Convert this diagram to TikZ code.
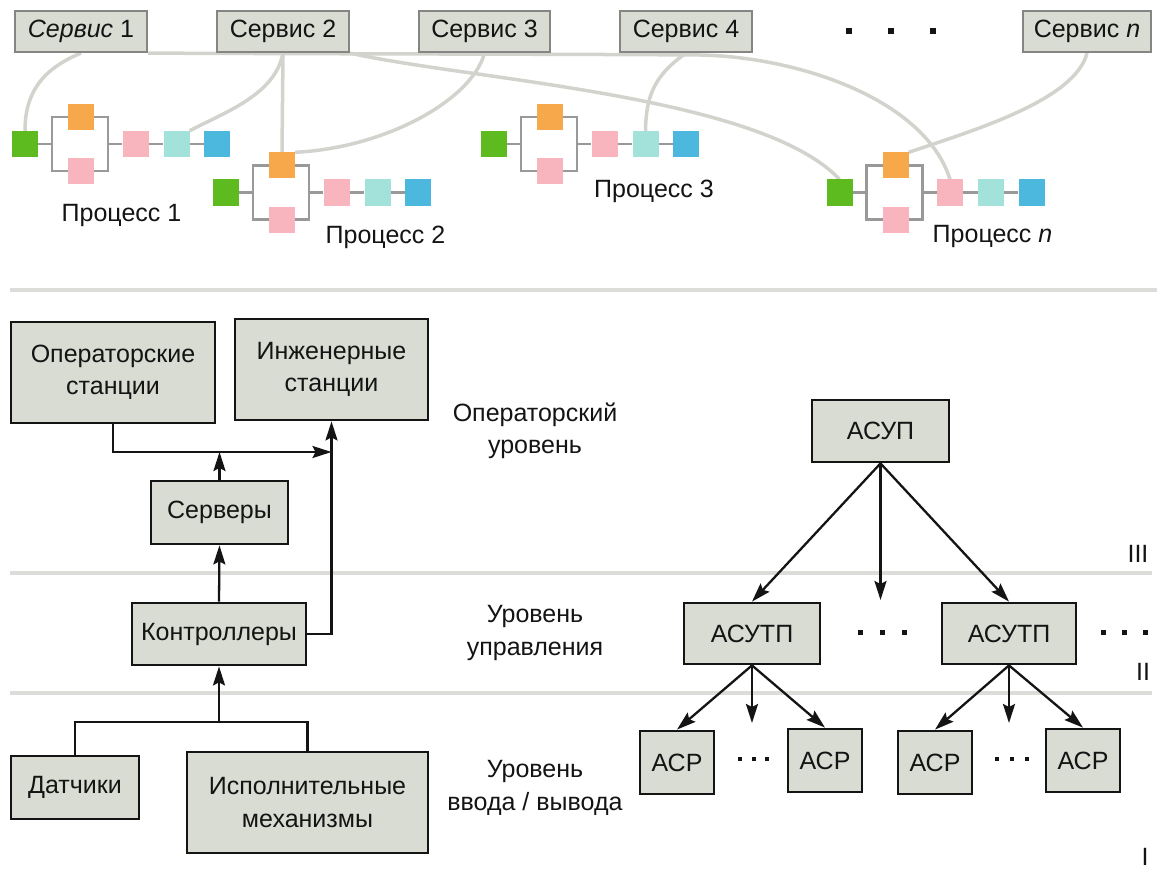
\documentclass[tikz,border=0pt]{standalone}
\usepackage{fontspec}
\setmainfont{Liberation Sans}
\usetikzlibrary{arrows.meta,backgrounds}

\definecolor{boxfill}{HTML}{D9DCD2}
\definecolor{svcedge}{HTML}{858583}
\definecolor{linkc}{HTML}{D3D3CE}
\definecolor{chainc}{HTML}{999999}
\definecolor{sepc}{HTML}{DCDCD8}
\definecolor{cgreen}{HTML}{5DBB1F}
\definecolor{corange}{HTML}{F7A84A}
\definecolor{cpink}{HTML}{F8B5BE}
\definecolor{ccyan}{HTML}{A2E2DA}
\definecolor{cblue}{HTML}{4CB8DD}
\definecolor{ink}{HTML}{141414}

\tikzset{
  every node/.style={font=\fontsize{25}{32.5}\selectfont, text=ink, inner sep=0pt},
  svc/.style={draw=svcedge, fill=boxfill, line width=2.2pt, minimum height=41pt},
  blk/.style={draw=ink, fill=boxfill, line width=2.8pt, align=center},
  sq/.style={minimum size=26pt, fill=#1},
  lvl/.style={align=center},
  link/.style={draw=linkc, line width=3.5pt},
  chainline/.style={draw=chainc, line width=2.6pt},
  arr/.style={draw=ink, line width=2.3pt, -{Stealth[length=19pt,width=12pt,inset=3pt]}},
  plain/.style={draw=ink, line width=2.3pt},
  sepline/.style={draw=sepc, line width=4pt},
  dotmark/.style={fill=ink, minimum size=#1}
}

% one process: start block, parallel pair in a bracket, then a chain of three
\newcommand\procrow[3]{%
  \node[sq=cgreen]  (#1g) at (#2,#3) {};
  \node[sq=corange] (#1o) at (#2+56,#3-27) {};
  \node[sq=cpink]   (#1b) at (#2+56,#3+27) {};
  \node[sq=cpink]   (#1k) at (#2+110.5,#3) {};
  \node[sq=ccyan]   (#1c) at (#2+151.5,#3) {};
  \node[sq=cblue]   (#1u) at (#2+192,#3) {};
  \coordinate (#1L) at (#2+27,#3);
  \coordinate (#1R) at (#2+83,#3);
  \begin{scope}[on background layer]
    \draw[chainline] (#1g) -- (#1L) (#1R) -- (#1k) -- (#1c) -- (#1u);
    \draw[chainline] (#1L |- #1o) rectangle (#1R |- #1b);
  \end{scope}
}

\begin{document}
\begin{tikzpicture}[x=1pt,y=-1pt]
\begin{scope}[on background layer]
  \fill[white] (0,0) rectangle (1157,872);
\end{scope}
\useasboundingbox (0,0) rectangle (1157,872);

% ---------- services ----------
\node[svc, minimum width=132pt] (s1) at (81,31.5)   {\textit{Сервис} 1};
\node[svc, minimum width=132pt] (s2) at (283,31.5)  {Сервис 2};
\node[svc, minimum width=131pt] (s3) at (484.5,31.5){Сервис 3};
\node[svc, minimum width=132pt] (s4) at (686,31.5)  {Сервис 4};
\node[svc, minimum width=128pt] (sn) at (1087,31.5) {Сервис \textit{n}};
\foreach \x [count=\i] in {849,890.5,932.5}
  \node[dotmark=6pt] (td\i) at (\x,31.5) {};

% ---------- processes ----------
\procrow{p1}{25}{144}
\procrow{p2}{226}{192.5}
\procrow{p3}{494}{144}
\procrow{pn}{839.5}{192.5}

\node[anchor=base] (l1) at (121.5,221) {Процесс 1};
\node[anchor=base] (l2) at (385.5,243) {Процесс 2};
\node[anchor=base] (l3) at (654,197)   {Процесс 3};
\node[anchor=base] (ln) at (992.5,242) {Процесс \textit{n}};

% service-to-process links
\coordinate (bendA) at (700,55);
\begin{scope}[on background layer]
  \draw[link] (s1.south) .. controls (40,70) and (25,95) .. (p1g.north);
  \draw[link] (s2.south) .. controls (275,95) and (225,112) .. (p1c.north east);
  \draw[link] (s2.south) -- (p2o.north);
  \draw[link] (s3.south) .. controls (472,100) and (385,148) .. (p2o.north east);
  \draw[link] (s4.south) .. controls (655,75) and (646,95) .. (p3c.north);
  \draw[link] (sn.south) .. controls (1075,100) and (975,130) .. (pno.north east);
  \draw[link] (s1.south east) .. controls (350,54) and (550,54) .. (bendA)
                              .. controls (800,57) and (925,100) .. (pnk.north);
  \draw[link] (s2.south east) .. controls (470,80) and (760,95) .. (png.north);
\end{scope}

% ---------- level separators ----------
\draw[sepline] (10,290) -- (1157,290);
\draw[sepline] (10,573) -- (1152,573);
\draw[sepline] (10,693) -- (1152,693);

\node[anchor=base] (n3) at (1138,562) {III};
\node[anchor=base] (n2) at (1143,680) {II};
\node[anchor=base] (n1) at (1145,865) {I};

% ---------- left structure ----------
\node[blk, minimum width=204pt, minimum height=101pt] (ops)  at (113,372.5)  {Операторские\\станции};
\node[blk, minimum width=193pt, minimum height=101pt] (eng)  at (331.5,369.5){Инженерные\\станции};
\node[blk, minimum width=137pt, minimum height=63pt]  (srv)  at (219.5,512.5){Серверы};
\node[blk, minimum width=174pt, minimum height=62pt]  (ctrl) at (219,634)    {Контроллеры};
\node[blk, minimum width=128pt, minimum height=63pt]  (dat)  at (75,787.5)   {Датчики};
\node[blk, minimum width=241pt, minimum height=101pt] (act)  at (307.5,802.5){Исполнительные\\механизмы};

\coordinate (opsy) at (0,452);
\coordinate (ioy) at (0,722);
\draw[arr] (ops.south) |- (eng.south |- opsy);
\draw[arr] (srv.north) -- (srv.north |- opsy);
\draw[arr] (ctrl.east) -| (eng.south);
\draw[arr] (ctrl.north) -- (srv.south);
\draw[plain] (dat.north) |- (act.north |- ioy) -- (act.north);
\draw[arr] (ctrl.south |- ioy) -- (ctrl.south);

% ---------- level captions ----------
\node[lvl] (lv3) at (535,431) {Операторский\\уровень};
\node[lvl] (lv2) at (535,633) {Уровень\\управления};
\node[lvl] (lv1) at (535,788) {Уровень\\ввода / вывода};

% ---------- right hierarchy ----------
\node[blk, minimum width=137pt, minimum height=62pt] (asup) at (880.5,431)  {АСУП};
\node[blk, minimum width=136pt, minimum height=61pt] (tp1)  at (752,633.5)  {АСУТП};
\node[blk, minimum width=134pt, minimum height=61pt] (tp2)  at (1009,633.5) {АСУТП};
\node[blk, minimum width=74pt, minimum height=63pt]  (r1)   at (677,762.5)  {АСР};
\node[blk, minimum width=74pt, minimum height=63pt]  (r2)   at (825,760.5)  {АСР};
\node[blk, minimum width=74pt, minimum height=63pt]  (r3)   at (935,762.5)  {АСР};
\node[blk, minimum width=74pt, minimum height=63pt]  (r4)   at (1083,760.5) {АСР};

\coordinate (tpy) at (0,600);
\coordinate (ry) at (0,723);
\draw[arr] (asup.south) -- (tp1.north);
\draw[arr] (asup.south) -- (asup.south |- tpy);
\draw[arr] (asup.south) -- (tp2.north);
\draw[arr] (tp1.south) -- (r1.north);
\draw[arr] (tp1.south) -- (tp1.south |- ry);
\draw[arr] (tp1.south) -- (r2.north);
\draw[arr] (tp2.south) -- (r3.north);
\draw[arr] (tp2.south) -- (tp2.south |- ry);
\draw[arr] (tp2.south) -- (r4.north);

\foreach \x [count=\i] in {860,882,904}
  \node[dotmark=5pt] (ma\i) at (\x,632) {};
\foreach \x [count=\i] in {1103,1124,1145}
  \node[dotmark=5pt] (mb\i) at (\x,632) {};
\foreach \x [count=\i] in {740,753.5,767}
  \node[dotmark=4pt] (ra\i) at (\x,759) {};
\foreach \x [count=\i] in {997,1012,1027}
  \node[dotmark=4pt] (rb\i) at (\x,759) {};
\end{tikzpicture}
\end{document}
